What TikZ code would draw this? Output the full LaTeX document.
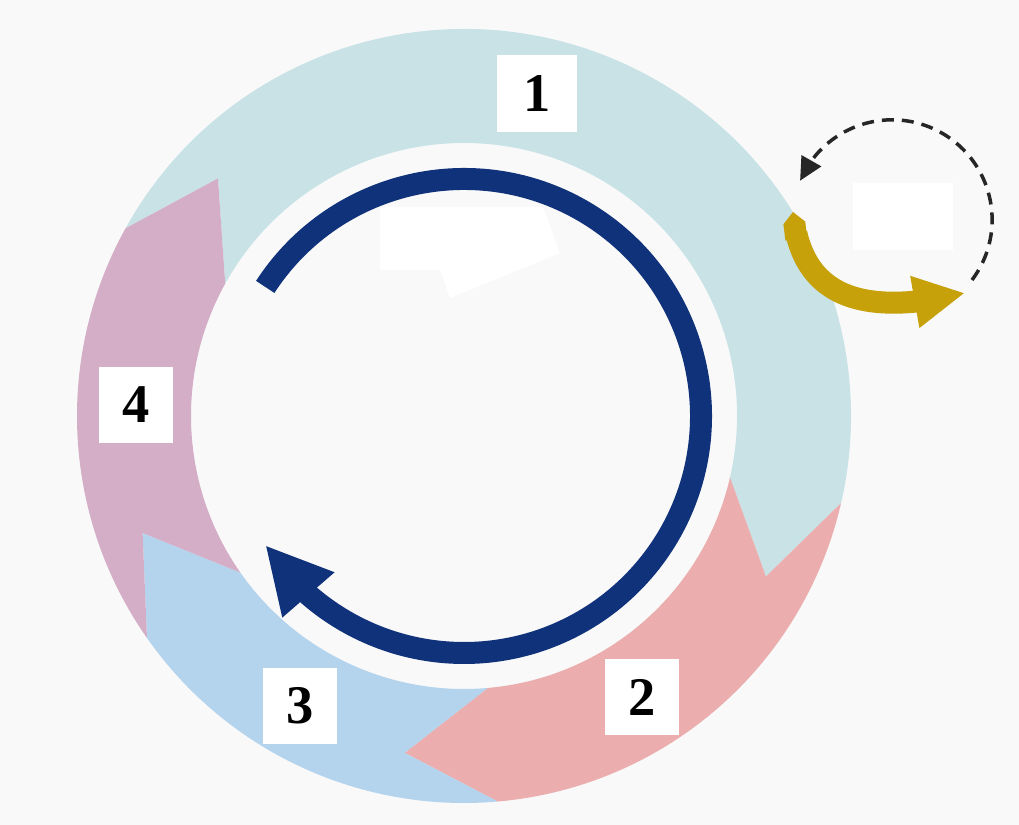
\documentclass[tikz,border=0pt]{standalone}
\usepackage{fontspec}
\setmainfont{Liberation Serif}
\usepackage{tikz}
\usetikzlibrary{positioning}
\usetikzlibrary{calc}
\usetikzlibrary{arrows.meta,bending}
\definecolor{bgcol}{RGB}{249,249,249}
\definecolor{segteal}{RGB}{200,226,230}
\definecolor{segpink}{RGB}{235,173,173}
\definecolor{segblue}{RGB}{180,212,238}
\definecolor{segmauve}{RGB}{212,174,198}
\definecolor{navy}{RGB}{16,50,122}
\definecolor{gold}{RGB}{198,161,10}
\tikzstyle{numbox} = [rectangle, minimum width=1.48cm, minimum height=1.54cm, text centered, fill=white, font=\fontsize{31}{32}\selectfont\bfseries]
\tikzstyle{blankbox} = [rectangle, minimum width=2cm, minimum height=1.34cm, fill=white]
\tikzstyle{loopline} = [line width=0.44cm, draw=navy, -{Triangle[length=1.32cm, width=1.28cm]}]
\tikzstyle{goldarrow} = [line width=0.44cm, draw=gold, {Triangle Cap[]}-{Triangle[length=1.02cm, width=0.98cm]}]
\tikzstyle{dasharrow} = [line width=0.07cm, draw=black!85, dash pattern=on 0.24cm off 0.16cm, -{Triangle[length=0.46cm, width=0.44cm]}]

\begin{document}
\begin{tikzpicture}[x=0.02cm, y=0.02cm]
\useasboundingbox (0,0) rectangle (1019,825);
\fill[bgcol] (0,0) rectangle (1019,825);
\coordinate (C) at (464,409);
\begin{scope}[shift={(C)}]
\foreach \a/\b/\col in {151/-13/segteal, -13/-85/segpink, -85/-145/segblue, -145/-209/segmauve}
  \fill[\col] (\a:387) arc[start angle=\a, end angle=\b, radius=387] -- ({\b-15}:342) -- (\b:273) arc[start angle=\b, end angle=\a, radius=273] -- ({\a-15}:342) -- cycle;
\draw [loopline] (147:237) arc[start angle=147, end angle=-147, radius=237];
\end{scope}
\fill[white] (380,618) -- (543,618) -- (560,572) -- (450,527) -- (440,555) -- (380,555) -- cycle;
\node (N1) [numbox, minimum width=1.6cm] at (537,731) {1};
\node (N2) [numbox] at (642,128) {2};
\node (N3) [numbox] at (300,119) {3};
\node (N4) [numbox] at (136,420) {4};
\node (B1) [blankbox] at (903,608) {};
\coordinate (G0) at (793,613);
\coordinate (G1) at (965,532);
\coordinate (D0) at (972,545);
\draw [goldarrow] (G0) .. controls (800,535) and (852,505) .. (G1);
\draw [dasharrow] (D0) arc[start angle=-37, end angle=157, radius=100];
\end{tikzpicture}
\end{document}
